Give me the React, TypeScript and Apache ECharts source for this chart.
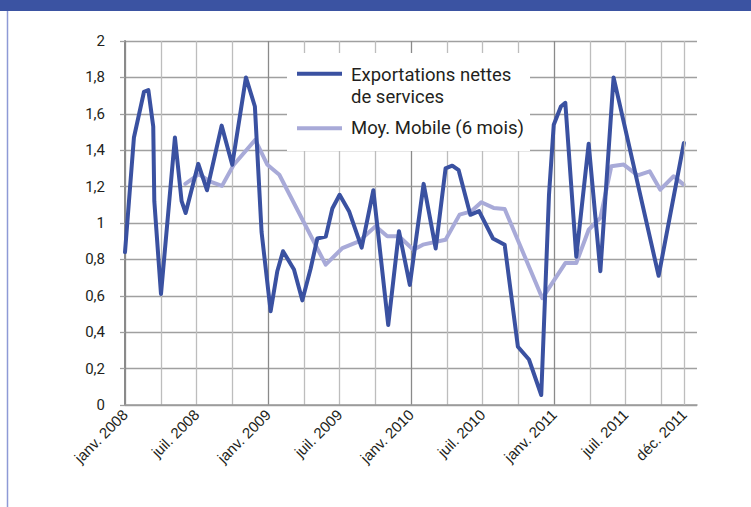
import React, { useEffect, useRef } from "react";
import * as echarts from "echarts";

// Month index: 0 = janv. 2008, 48 = janv. 2012
const yTickLabels = ["0", "0,2", "0,4", "0,6", "0,8", "1", "1,2", "1,4", "1,6", "1,8", "2"];
const xLabelMonths = [0, 6, 12, 18, 24, 30, 36, 42, 46.9];
const xLabelTexts = [
  "janv. 2008", "juil. 2008", "janv. 2009", "juil. 2009", "janv. 2010",
  "juil. 2010", "janv. 2011", "juil. 2011", "déc. 2011",
];
const extraGridMonths = [46.9];

const exportMonths = [
  0, 0.75, 1.59, 1.96, 2.37, 2.46, 3.02, 4.19, 4.75, 5.09, 6.15, 6.88, 8.11, 9.0,
  10.15, 10.9, 11.46, 12.22, 12.78, 13.26, 14.18, 14.88, 15.58, 16.14, 16.85, 17.4,
  18.01, 18.8, 19.86, 20.84, 22.09, 22.99, 23.9, 25.06, 26.07, 26.9, 27.46, 28.0,
  28.98, 29.71, 30.88, 31.86, 32.97, 33.9, 34.93, 35.58, 35.98, 36.58, 36.95, 37.87,
  38.91, 39.89, 41.0, 44.78, 46.9,
];
const exportValues = [
  0.84, 1.47, 1.72, 1.73, 1.53, 1.12, 0.61, 1.47, 1.12, 1.055, 1.325, 1.18, 1.535, 1.32,
  1.8, 1.64, 0.95, 0.515, 0.735, 0.845, 0.745, 0.575, 0.75, 0.915, 0.925, 1.08,
  1.155, 1.065, 0.865, 1.18, 0.44, 0.955, 0.66, 1.215, 0.86, 1.3, 1.315, 1.29,
  1.045, 1.065, 0.915, 0.88, 0.32, 0.25, 0.055, 1.155, 1.54, 1.64, 1.66, 0.815,
  1.435, 0.735, 1.8, 0.71, 1.44,
];

const maMonths = [
  5.06, 6.2, 7.16, 8.14, 9.11, 10.93, 11.95, 12.95, 16.84, 18.24, 19.63, 21.03, 22.01,
  22.99, 24.2, 25.0, 26.9, 28.08, 29.06, 29.9, 30.93, 31.86, 35.02, 36.95, 37.87,
  38.91, 39.89, 40.81, 41.85, 43.02, 44.03, 44.92, 46.04, 46.88,
];
const maValues = [
  1.215, 1.268, 1.227, 1.204, 1.319, 1.457, 1.32, 1.265, 0.771, 0.862, 0.899, 0.982, 0.927,
  0.927, 0.853, 0.881, 0.908, 1.046, 1.064, 1.114, 1.083, 1.077, 0.587, 0.78, 0.78,
  0.963, 1.028, 1.312, 1.321, 1.262, 1.284, 1.183, 1.257, 1.211,
];

const seriesNames = ["Exportations nettes\nde services", "Moy. Mobile (6 mois)"];

const DARK_BLUE = "#3a51a1";
const LIGHT_BLUE = "#a8aad8";
const TEXT = "#231f20";

export default function App() {
  const ref = useRef<HTMLDivElement>(null);

  useEffect(() => {
    if (!ref.current) return;
    const chart = echarts.init(ref.current, undefined, { renderer: "svg" });

    const option: any = {
      animation: false,
      grid: { left: 125, top: 41, width: 572, height: 364 },
      xAxis: {
        type: "value",
        min: 0,
        max: 48,
        interval: 3,
        axisLine: { show: true, lineStyle: { color: "#9a9a9a", width: 1.5 } },
        axisTick: { show: false },
        splitLine: {
          show: true,
          showMaxLine: false,
          lineStyle: { color: ["#8a8a8a", "#bdbdbd", "#bdbdbd", "#bdbdbd"], width: 1.3 },
        },
        axisLabel: {
          customValues: xLabelMonths,
          rotate: 45,
          margin: 7,
          color: TEXT,
          fontFamily: "Liberation Sans",
          fontSize: 15,
          formatter: (v: number) => {
            const i = xLabelMonths.findIndex((m) => Math.abs(m - v) < 0.01);
            return i >= 0 ? xLabelTexts[i] : "";
          },
        },
      },
      yAxis: {
        type: "value",
        min: 0,
        max: 2,
        interval: 0.2,
        axisLine: { show: true, lineStyle: { color: "#8a8a8a", width: 2 } },
        axisTick: { show: true, length: 5, lineStyle: { color: "#a0a0a0", width: 1.3 } },
        splitLine: { show: true, lineStyle: { color: "#a0a0a0", width: 1.3 } },
        axisLabel: {
          margin: 20,
          color: TEXT,
          fontFamily: "Roboto",
          fontSize: 15,
          formatter: (v: number) => yTickLabels[Math.round(v / 0.2)] ?? "",
        },
      },
      series: [
        {
          type: "line",
          data: [],
          silent: true,
          z: 1,
          markLine: {
            silent: true,
            symbol: ["none", "none"],
            label: { show: false },
            lineStyle: { color: "#bdbdbd", width: 1.3, type: "solid" },
            data: extraGridMonths.map((m) => ({ xAxis: m })),
          },
        },
        {
          type: "line",
          name: seriesNames[1],
          data: maMonths.map((m, i) => [m, maValues[i]]),
          symbol: "none",
          z: 3,
          lineStyle: { color: LIGHT_BLUE, width: 4, join: "round", cap: "round" },
        },
        {
          type: "line",
          name: seriesNames[0],
          data: exportMonths.map((m, i) => [m, exportValues[i]]),
          symbol: "none",
          z: 4,
          lineStyle: { color: DARK_BLUE, width: 4, join: "round", cap: "round" },
        },
      ],
      graphic: [
        { type: "rect", shape: { x: 0, y: 0, width: 751, height: 11 }, style: { fill: "#3b53a2" }, z: 10 },
        { type: "line", shape: { x1: 7.5, y1: 11, x2: 7.5, y2: 507 }, style: { stroke: "#8e9ad6", lineWidth: 1.5 }, z: 10 },
        { type: "rect", shape: { x: 287, y: 53, width: 243, height: 98 }, style: { fill: "#ffffff" }, z: 10 },
        { type: "line", shape: { x1: 297, y1: 73.7, x2: 342, y2: 73.7 }, style: { stroke: DARK_BLUE, lineWidth: 4 }, z: 11 },
        { type: "line", shape: { x1: 297, y1: 128.3, x2: 342, y2: 128.3 }, style: { stroke: LIGHT_BLUE, lineWidth: 4 }, z: 11 },
        {
          type: "text", x: 351, y: 64.5, z: 11,
          style: { text: seriesNames[0], fill: TEXT, font: "18.5px Roboto", lineHeight: 21.7, verticalAlign: "top" },
        },
        {
          type: "text", x: 351, y: 128, z: 11,
          style: { text: seriesNames[1], fill: TEXT, font: "18.5px Roboto", verticalAlign: "middle" },
        },
      ],
    };

    chart.setOption(option);
    return () => chart.dispose();
  }, []);

  return (
    <div
      ref={ref}
      style={{ position: "fixed", left: 0, top: 0, width: 751, height: 507, background: "#ffffff" }}
    />
  );
}
